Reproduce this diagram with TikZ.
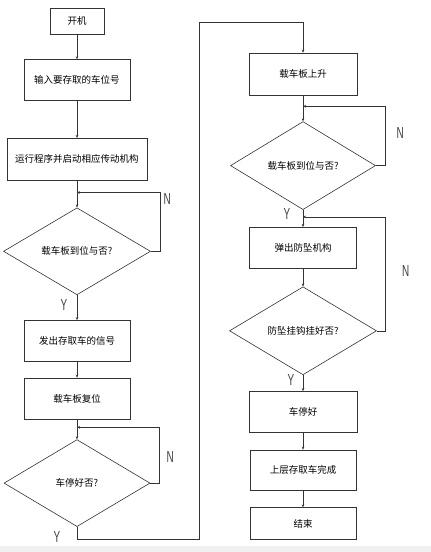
\documentclass[tikz,border=0pt]{standalone}
\usepackage{fontspec}
\setmainfont{Noto Sans CJK SC}
\setsansfont{Liberation Sans}
\usetikzlibrary{shapes.geometric, arrows.meta, positioning}

\begin{document}
\begin{tikzpicture}[x=1pt, y=1pt, >={Stealth[length=3pt,width=2.6pt]},
    line/.style={draw=black!80, line width=0.6pt},
    stepbox/.style={line, rectangle, minimum height=41pt, minimum width=106pt, inner sep=2pt, font=\fontsize{9.5}{11}\selectfont},
    check/.style={line, diamond, shape aspect=1.7, minimum width=147pt, minimum height=87pt, inner sep=0pt, font=\fontsize{9.5}{11}\selectfont},
    yn/.style={font=\sffamily\fontsize{16}{16}\selectfont, text=black!75, xscale=0.62, transform shape, inner sep=0pt}]
        \useasboundingbox (0,0) rectangle (431,-552);
        \fill[black!6] (0,-546) rectangle (431,-552);

        % left column
        \node[stepbox, minimum width=54pt, minimum height=26pt] (start) at (77,-21) {开机};
        \node[stepbox, below=25pt of start] (input) {输入要存取的车位号};
        \node[stepbox, minimum width=140pt, minimum height=42pt, below=37pt of input] (run) {运行程序并启动相应传动机构};
        \coordinate[below=12pt of run] (j1);
        \node[check, below=27pt of run] (arrive) {载车板到位与否?};
        \node[stepbox, below=25pt of arrive] (signal) {发出存取车的信号};
        \node[stepbox, below=16pt of signal] (reset) {载车板复位};
        \coordinate[below=8pt of reset] (j2);
        \node[check, minimum width=146pt, below=20pt of reset] (parked) {车停好否?};

        % right column
        \node[stepbox, minimum width=108pt, minimum height=42pt] (lift) at (303,-74) {载车板上升};
        \coordinate[below=11pt of lift] (j3);
        \node[check, minimum width=145pt, minimum height=88pt, below=26pt of lift] (arrive2) {载车板到位与否?};
        \coordinate[below=7pt of arrive2] (j4);
        \node[stepbox, minimum width=107pt, below=17pt of arrive2] (eject) {弹出防坠机构};
        \node[check, minimum height=88pt, below=18pt of eject] (hook) {防坠挂钩挂好否?};
        \node[stepbox, minimum width=108pt, below=16pt of hook] (stopped) {车停好};
        \node[stepbox, minimum height=40pt, below=17pt of stopped] (done) {上层存取车完成};
        \node[stepbox, minimum height=32pt, below=17pt of done] (stop) {结束};

        \coordinate (c1) at (199,-539);
        \coordinate (c2) at (199,-22);

        \draw[line, ->] (start) -- (input);
        \draw[line, ->] (input) -- (run);
        \draw[line, ->] (run) -- (arrive);
        \draw[line, ->] (arrive.east) -- ++(9,0) |- (j1);
        \draw[line, ->] (arrive) -- (signal);
        \draw[line, ->] (signal) -- (reset);
        \draw[line, ->] (reset) -- (parked);
        \draw[line, ->] (parked.east) -- ++(9,0) |- (j2);
        \draw[line, ->] (parked.south) |- (c1) -- (c2) -| (lift.north);

        \draw[line, ->] (lift) -- (arrive2);
        \draw[line, ->] (arrive2.east) -- ++(9.5,0) |- (j3);
        \draw[line, ->] (arrive2) -- (eject);
        \draw[line, ->] (eject) -- (hook);
        \draw[line, ->] (hook.east) -- ++(8.5,0) |- (j4);
        \draw[line, ->] (hook) -- (stopped);
        \draw[line, ->] (stopped) -- (done);
        \draw[line, ->] (done) -- (stop);

        \node[yn] (n1) at ([xshift=16.5pt, yshift=52.5pt]arrive.east) {N};
        \node[yn] (y1) at ([xshift=-13pt, yshift=-10pt]arrive.south) {Y};
        \node[yn] (n2) at ([xshift=20pt, yshift=26.5pt]parked.east) {N};
        \node[yn] (y2) at ([xshift=-20pt, yshift=-10pt]parked.south) {Y};
        \node[yn] (n3) at ([xshift=24.5pt, yshift=33pt]arrive2.east) {N};
        \node[yn] (y3) at ([xshift=-16pt, yshift=-4pt]arrive2.south) {Y};
        \node[yn] (n4) at ([xshift=29pt, yshift=60pt]hook.east) {N};
        \node[yn] (y4) at ([xshift=-12pt, yshift=-5pt]hook.south) {Y};
    \end{tikzpicture}
\end{document}
